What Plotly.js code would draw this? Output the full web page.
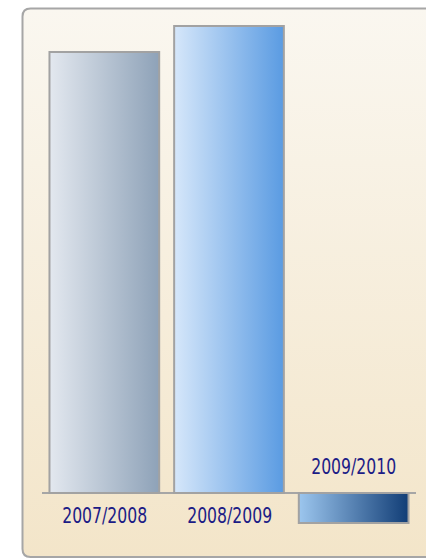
<!DOCTYPE html>
<html>
<head>
<meta charset="utf-8">
<script src="https://cdn.plot.ly/plotly-3.0.1.min.js"></script>
<style>
  html, body { margin: 0; padding: 0; background: #ffffff; }
  #chart { width: 426px; height: 559px; }
</style>
</head>
<body>
<div id="chart"></div>
<script>
// ---- data ----
var seasons = ["2007/2008", "2008/2009", "2009/2010"];
var values = [44.1, 46.7, -3.0];

// ---- styles ----
var gradLeft  = ["#e3e8ef", "#d6e7fa", "#9cc6ee"];
var gradRight = ["#8ea2b8", "#5a9be2", "#113d76"];
var labelColor = "#1c1c86";
var labelFont = "Liberation Sans Narrow, Arial Narrow, DejaVu Sans Condensed, sans-serif";

var data = [{
  type: "bar",
  x: seasons,
  y: values,
  marker: {
    color: gradRight,
    line: { color: "#a2a2a2", width: 2 }
  },
  hoverinfo: "none"
}];

var annotations = seasons.map(function (s, i) {
  var pos = values[i] >= 0;
  return {
    x: s, y: 0, xref: "x", yref: "y",
    text: s, showarrow: false,
    yanchor: pos ? "top" : "bottom",
    yshift: pos ? -8 : 12,
    font: { family: labelFont, size: 22, color: labelColor }
  };
});

var layout = {
  width: 426, height: 559,
  margin: { l: 41.5, r: 9.5, t: 13, b: 26 },
  paper_bgcolor: "#ffffff",
  plot_bgcolor: "rgba(0,0,0,0)",
  showlegend: false,
  bargap: 0.12,
  xaxis: { showticklabels: false, showgrid: false, zeroline: false, showline: false, ticks: "", fixedrange: true },
  yaxis: { range: [-4, 48], showticklabels: false, showgrid: false, zeroline: true,
           zerolinecolor: "#a6a6a6", zerolinewidth: 1.5, showline: false, ticks: "", fixedrange: true },
  annotations: annotations,
  shapes: [{
    type: "path", layer: "below",
    xref: "paper", yref: "paper",
    xsizemode: "pixel", ysizemode: "pixel",
    xanchor: 0, yanchor: 1,
    path: "M 390,4.5 L -11.5,4.5 Q -19.5,4.5 -19.5,-3.5 L -19.5,-536 Q -19.5,-544 -11.5,-544 L 390,-544 Z",
    fillcolor: "#f6eedd",
    line: { color: "#a6a6a6", width: 2 }
  }]
};

Plotly.newPlot("chart", data, layout, { displayModeBar: false, staticPlot: true }).then(function (gd) {
  var NS = "http://www.w3.org/2000/svg";
  var svg = gd.querySelector(".main-svg");
  var defs = document.createElementNS(NS, "defs");
  function addGrad(id, c0, c1, vertical) {
    var g = document.createElementNS(NS, "linearGradient");
    g.setAttribute("id", id);
    g.setAttribute("x1", "0"); g.setAttribute("y1", "0");
    g.setAttribute("x2", vertical ? "0" : "1"); g.setAttribute("y2", vertical ? "1" : "0");
    var s0 = document.createElementNS(NS, "stop");
    s0.setAttribute("offset", "0"); s0.setAttribute("stop-color", c0);
    var s1 = document.createElementNS(NS, "stop");
    s1.setAttribute("offset", "1"); s1.setAttribute("stop-color", c1);
    g.appendChild(s0); g.appendChild(s1);
    defs.appendChild(g);
  }
  for (var i = 0; i < seasons.length; i++) addGrad("barGrad" + i, gradLeft[i], gradRight[i], false);
  addGrad("panelGrad", "#faf7f0", "#f3e5c9", true);
  svg.insertBefore(defs, svg.firstChild);
  gd.querySelectorAll(".barlayer .point path").forEach(function (p, i) {
    p.style.fill = "url(#barGrad" + i + ")";
  });
  var sp = gd.querySelector(".shapelayer path");
  if (sp) sp.style.fill = "url(#panelGrad)";
  // condensed look for the labels (narrow font not installed)
  gd.querySelectorAll(".annotation text").forEach(function (t) {
    var L = t.getComputedTextLength();
    if (L > 90) {
      t.setAttribute("textLength", 85);
      t.setAttribute("lengthAdjust", "spacingAndGlyphs");
    }
  });
});
</script>
</body>
</html>
